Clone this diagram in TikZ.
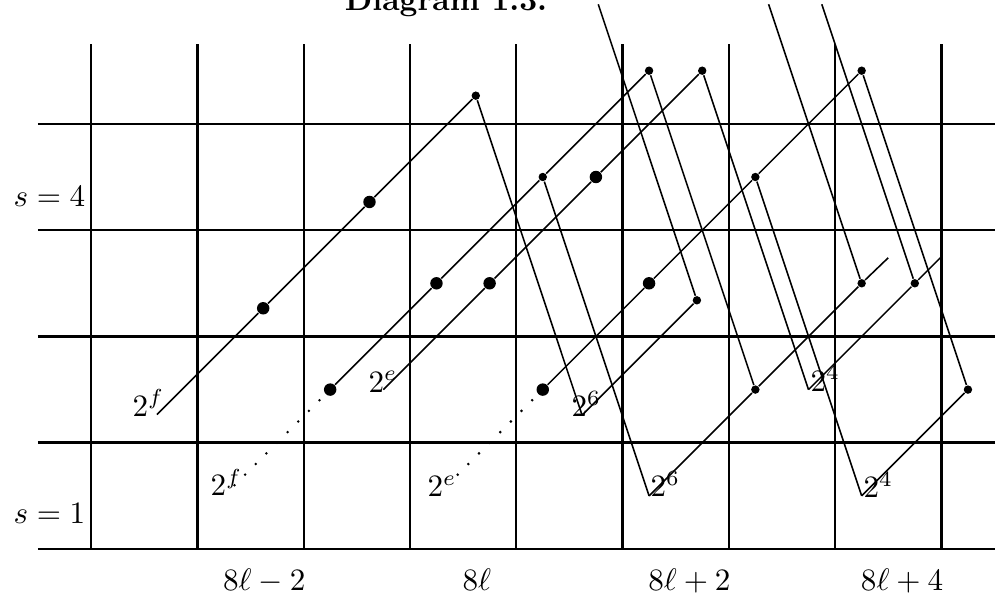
\documentclass[tikz,border=0pt]{standalone}
\begin{document}
\begin{tikzpicture}[x=1.2cm,y=1.2cm,
  gridline/.style={line width=0.7pt},
  thickgrid/.style={line width=0.9pt},
  diffline/.style={line width=0.5pt},
  bigdot/.style={circle,fill,inner sep=0pt,minimum size=4pt},
  smalldot/.style={circle,fill,inner sep=0pt,minimum size=2.7pt},
  lab/.style={inner sep=0pt}]
\useasboundingbox (-0.856,-0.442) rectangle (8.542,5.165);
% title (cut off at the top, as in the reference)
\node[lab,anchor=base] (title) at (3.34,5.07) {\bfseries Diagram 1.3.};
% grid
\foreach \x in {2,...,6} \draw[gridline] (\x,0) -- (\x,4.75);
\foreach \x in {0,1,7,8} \draw[thickgrid] (\x,0) -- (\x,4.75);
\foreach \y in {0,2,3,4} \draw[gridline] (-0.5,\y) -- (8.5,\y);
\draw[thickgrid] (-0.5,1) -- (8.5,1);
% points
\coordinate (f0) at (0.62,1.265);
\coordinate (b0) at (2.75,1.5);
\coordinate (u6) at (4.62,1.26);
\coordinate (l6) at (5.25,0.5);
\coordinate (u4) at (6.75,1.5);
\coordinate (l4) at (7.25,0.5);
\coordinate (d3) at (7.5,2.74);
\coordinate (e2) at (7.99,2.74);
\coordinate (t1) at (4.772,5.125);
\coordinate (t2) at (6.375,5.125);
\coordinate (t3) at (6.875,5.125);
% dots
\node[bigdot] (f1) at (1.62,2.265) {};
\node[bigdot] (f2) at (2.62,3.265) {};
\node[smalldot] (f3) at (3.62,4.265) {};
\node[bigdot] (a0) at (2.25,1.5) {};
\node[bigdot] (a1) at (3.25,2.5) {};
\node[smalldot] (a2) at (4.25,3.5) {};
\node[smalldot] (a3) at (5.25,4.5) {};
\node[bigdot] (b1) at (3.75,2.5) {};
\node[bigdot] (b2) at (4.75,3.5) {};
\node[smalldot] (b3) at (5.75,4.5) {};
\node[bigdot] (c0) at (4.25,1.5) {};
\node[bigdot] (c1) at (5.25,2.5) {};
\node[smalldot] (c2) at (6.25,3.5) {};
\node[smalldot] (c3) at (7.25,4.5) {};
\node[smalldot] (u6e) at (5.70,2.34) {};
\node[smalldot] (d1) at (6.25,1.5) {};
\node[smalldot] (d2) at (7.25,2.5) {};
\node[smalldot] (e1) at (7.75,2.5) {};
\node[smalldot] (g1) at (8.25,1.5) {};
% slope-1 lines
\draw[diffline] (f0) -- (f1) -- (f2) -- (f3);
\draw[diffline] (a0) -- (a1) -- (a2) -- (a3);
\draw[diffline] (b0) -- (b1) -- (b2) -- (b3);
\draw[diffline] (c0) -- (c1) -- (c2) -- (c3);
\draw[diffline] (u6) -- (u6e);
\draw[diffline] (l6) -- (d1) -- (d2) -- (d3);
\draw[diffline] (u4) -- (e1) -- (e2);
\draw[diffline] (l4) -- (g1);
% steep lines
\draw[diffline] (f3) -- (u6);
\draw[diffline] (a2) -- (l6);
\draw[diffline] (a3) -- (d1);
\draw[diffline] (b3) -- (u4);
\draw[diffline] (c2) -- (l4);
\draw[diffline] (c3) -- (g1);
\draw[diffline] (t1) -- (u6e);
\draw[diffline] (t2) -- (d2);
\draw[diffline] (t3) -- (e1);
% dotted tails
\foreach \k in {1,...,9} \fill ({2.25-\k*0.1},{1.5-\k*0.1}) circle[radius=0.45pt];
\foreach \k in {1,...,8} \fill ({4.25-\k*0.1},{1.5-\k*0.1}) circle[radius=0.45pt];
% labels
\node[lab,anchor=base west] (lfu) at (0.386,1.25) {$2^f$};
\node[lab,anchor=base west] (leu) at (2.606,1.477) {$2^e$};
\node[lab,anchor=base west] (l6u) at (4.515,1.245) {$2^6$};
\node[lab,anchor=base west] (l6l) at (5.259,0.494) {$2^6$};
\node[lab,anchor=base west] (l4u) at (6.764,1.486) {$2^4$};
\node[lab,anchor=base west] (l4l) at (7.262,0.484) {$2^4$};
\node[lab,anchor=base west] (lfl) at (1.12,0.5) {$2^f$};
\node[lab,anchor=base west] (lel) at (3.16,0.49) {$2^e$};
\node[lab,anchor=base west] (s4) at (-0.734,3.227) {$s=4$};
\node[lab,anchor=base west] (s1) at (-0.734,0.245) {$s=1$};
\node[lab,anchor=base] (x1) at (1.63,-0.386) {$8\ell-2$};
\node[lab,anchor=base] (x2) at (3.63,-0.386) {$8\ell$};
\node[lab,anchor=base] (x3) at (5.63,-0.386) {$8\ell+2$};
\node[lab,anchor=base] (x4) at (7.63,-0.386) {$8\ell+4$};
\end{tikzpicture}
\end{document}
